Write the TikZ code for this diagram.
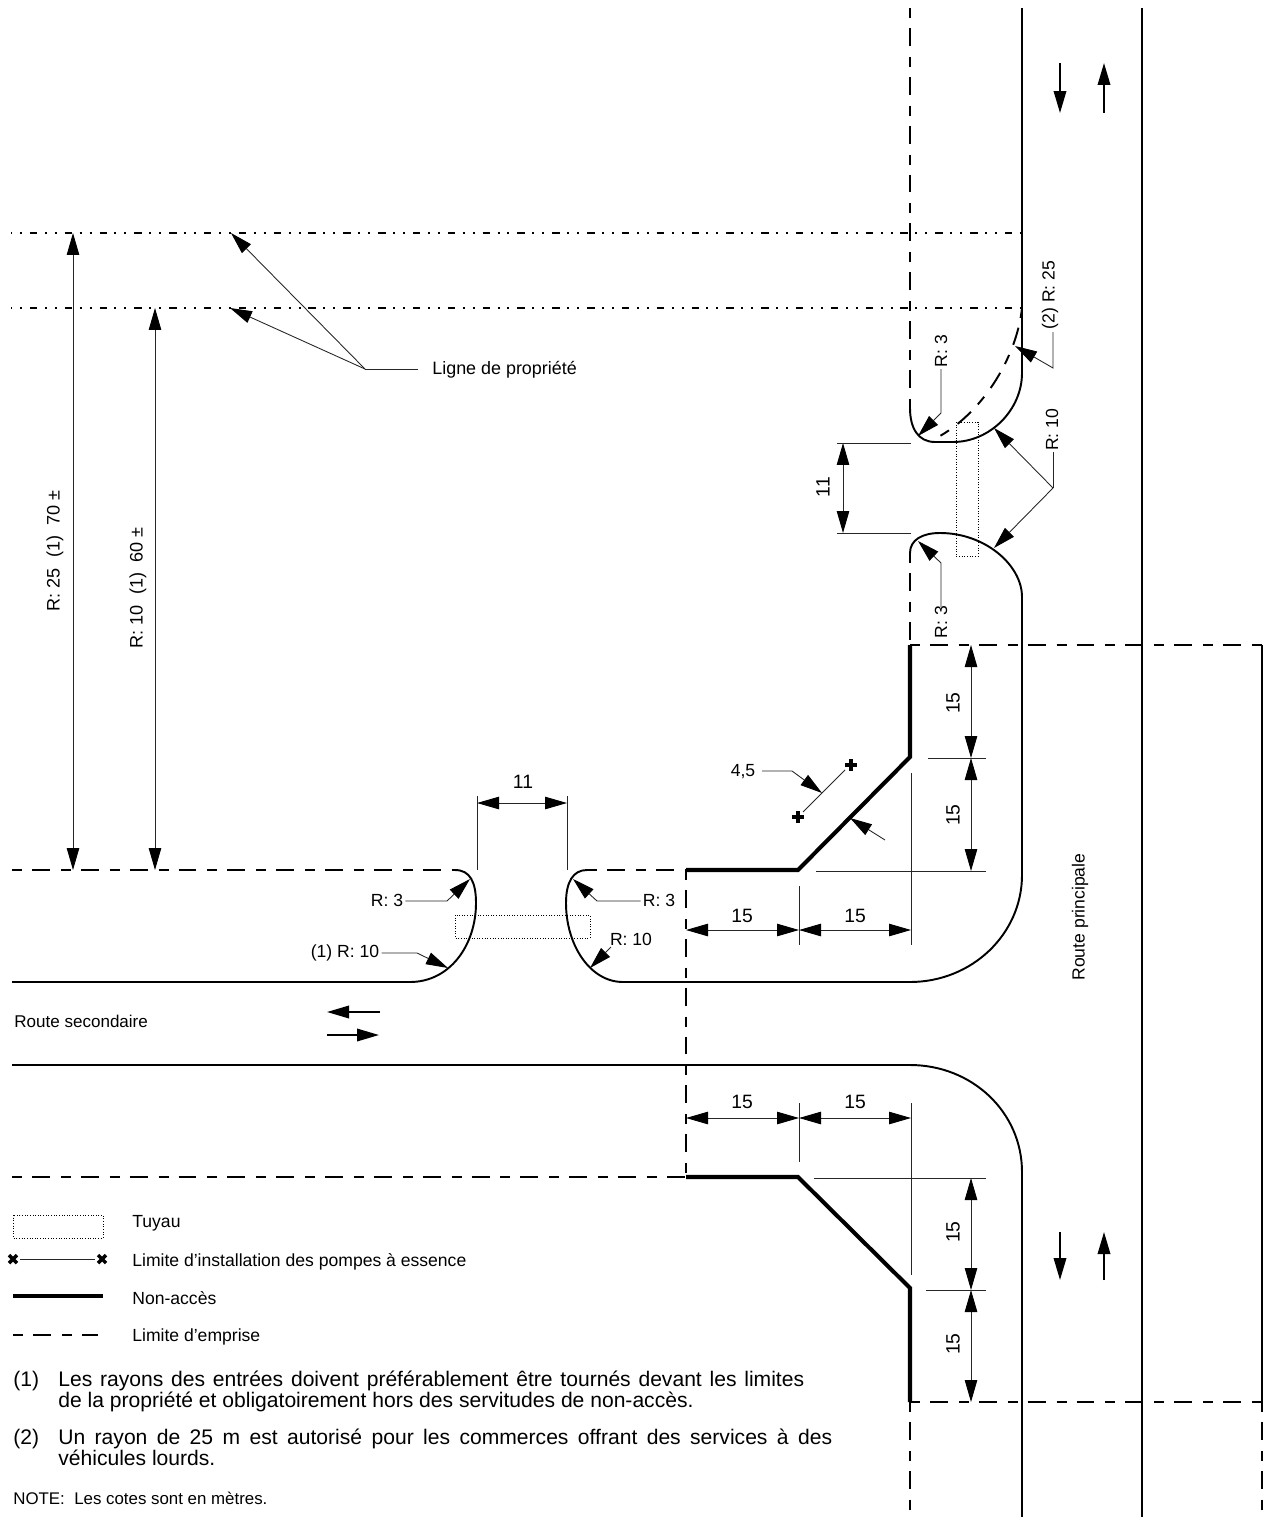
\documentclass[tikz,border=0pt]{standalone}
\usepackage{fontspec}
\setmainfont{Liberation Sans}
\usetikzlibrary{arrows.meta}
\tikzset{
  >={Triangle[length=0.44cm,width=0.25cm]},
  road/.style={line width=1.1pt},
  noaccess/.style={line width=2.3pt,line join=miter},
  emprise/.style={line width=1.1pt,dash pattern=on 5.7pt off 5.7pt on 10.2pt off 6.2pt},
  propriete/.style={line width=1.1pt,dash pattern=on 4.25pt off 4.25pt on 1.13pt off 4.53pt on 1.13pt off 4.53pt,dash phase=9.07pt},
  pipe/.style={line width=0.5pt,densely dotted},
  thinline/.style={line width=0.5pt,black!85},
  dimline/.style={line width=0.5pt,black!85,<->,>={Triangle[length=0.44cm,width=0.25cm,color=black]}},
  leader/.style={line width=0.5pt,black!85,->,>={Triangle[length=0.44cm,width=0.25cm,color=black]}},
  pump/.style={line width=2pt},
  lbl/.style={inner sep=0pt,font=\fontsize{10}{11}\selectfont},
  numlbl/.style={inner sep=0pt,font=\fontsize{11}{12}\selectfont},
  vlbl/.style={lbl,rotate=90},
  vnum/.style={numlbl,rotate=90},
  note/.style={inner sep=0pt,anchor=north west,align=left,font=\fontsize{12}{11.9}\selectfont},
}
\begin{document}
\begin{tikzpicture}[x=0.02cm,y=-0.02cm]
\useasboundingbox (0,0) rectangle (1267,1517);
\draw[road] (1022,8) -- (1022,373);
\draw[road] (910,408) .. controls (910,428) and (918,442) .. (935,442) -- (953,442)
  .. controls (990,442) and (1022,410) .. (1022,373);
\draw[road] (910,553) .. controls (910,540) and (922,533) .. (940,533)
  .. controls (985,533) and (1022,565) .. (1022,597) -- (1022,875)
  .. controls (1022,934) and (972,982) .. (910,982) -- (623,982)
  .. controls (590,982) and (566,945) .. (566,903)
  .. controls (566,882) and (573,870) .. (587,870);
\draw[road] (12,982) -- (410,982) .. controls (450,982) and (476,945) .. (476,903)
  .. controls (476,882) and (470,870) .. (455,870);
\draw[road] (12,1065) -- (910,1065) .. controls (972,1065) and (1022,1112) .. (1022,1172) -- (1022,1517);
\draw[road] (1142,8) -- (1142,1517);
\draw[road] (1262,645) -- (1262,1402);
\draw[emprise] (910,8) -- (910,408);
\draw[emprise] (910,553) -- (910,645);
\draw[emprise] (910,645) -- (1262,645);
\draw[emprise] (910,1402) -- (1262,1402);
\draw[emprise] (910,1402) -- (910,1517);
\draw[emprise] (1262,1402) -- (1262,1517);
\draw[emprise] (12,870) -- (455,870);
\draw[emprise] (587,870) -- (686,870);
\draw[emprise] (686,870) -- (686,1177);
\draw[emprise] (12,1177) -- (686,1177);
\draw[emprise] (1022,308) .. controls (1017,355) and (985,410) .. (940,436);
\draw[noaccess] (910,645) -- (910,757) -- (798,870) -- (686,870);
\draw[noaccess] (686,1177) -- (798,1177) -- (910,1288) -- (910,1402);
\draw[propriete] (11,233) -- (1022,233);
\draw[propriete] (11,308) -- (1022,308);
\draw[pipe] (455,915) rectangle (590,938);
\draw[pipe] (956,422) rectangle (978,556);
% dimensions
\draw[dimline] (73,233) -- (73,870);
\draw[dimline] (155,308) -- (155,870);
\node[vlbl,font=\fontsize{10.3}{11}\selectfont] (rvingtcinq) at (55,551) {R: 25\ \ (1)\ \ 70 ±};
\node[vlbl,font=\fontsize{10.3}{11}\selectfont] (rdix) at (138,588) {R: 10\ \ (1)\ \ 60 ±};
\draw[dimline] (843,443) -- (843,533);
\draw[thinline] (837,443) -- (911,443);
\draw[thinline] (837,533) -- (911,533);
\node[vnum] (onzev) at (823,487) {11};
\draw[dimline] (477,803) -- (567,803);
\draw[thinline] (477,796) -- (477,870);
\draw[thinline] (567,796) -- (567,870);
\node[numlbl] (onzeh) at (523,782) {11};
\draw[dimline] (971,645) -- (971,758);
\draw[dimline] (971,758) -- (971,871);
\draw[thinline] (928,758) -- (986,758);
\draw[thinline] (816,871) -- (986,871);
\draw[thinline] (911,773) -- (911,945);
\node[vnum] (qza) at (953,703) {15};
\node[vnum] (qzb) at (953,815) {15};
\draw[dimline] (686,930) -- (799,930);
\draw[dimline] (799,930) -- (911,930);
\draw[thinline] (799,886) -- (799,945);
\node[numlbl] (qzc) at (742,916) {15};
\node[numlbl] (qzd) at (855,916) {15};
\draw[dimline] (686,1118) -- (799,1118);
\draw[dimline] (799,1118) -- (911,1118);
\draw[thinline] (799,1103) -- (799,1162);
\draw[thinline] (911,1103) -- (911,1275);
\node[numlbl] (qze) at (742,1102) {15};
\node[numlbl] (qzf) at (855,1102) {15};
\draw[dimline] (971,1178) -- (971,1290);
\draw[dimline] (971,1290) -- (971,1402);
\draw[thinline] (814,1178) -- (986,1178);
\draw[thinline] (926,1290) -- (986,1290);
\node[vnum] (qzg) at (953,1232) {15};
\node[vnum] (qzh) at (953,1344) {15};
% leaders
\node[lbl,anchor=west,font=\fontsize{10.2}{11}\selectfont] (ligne) at (432,370) {Ligne de propriété};
\coordinate (ligj) at (365,369);
\draw[thinline] (ligne.west) ++(-14,-1) -- (ligj);
\draw[leader] (ligj) -- (231,233);
\draw[leader] (ligj) -- (230,308);
\node[vlbl] (rtroish) at (941,351) {R: 3};
\draw[leader] (941,369) -- (941,413) -- (918,436);
\node[vlbl] (rtroisb) at (941,622) {R: 3};
\draw[leader] (941,607) -- (941,563) -- (918,541);
\node[vlbl] (rdixv) at (1052,430) {R: 10};
\coordinate (rdixj) at (1053,488);
\draw[thinline] (1053,452) -- (rdixj);
\draw[leader] (rdixj) -- (994,428);
\draw[leader] (rdixj) -- (994,548);
\node[vlbl] (rvc) at (1050,295) {(2) R: 25};
\draw[leader] (1053,332) -- (1053,368) -- (1015,346);
\node[lbl] (rtroisg) at (387,900) {R: 3};
\draw[leader] (rtroisg.east) ++(2,1) -- (447,901) -- (470,879);
\node[lbl] (rdixg) at (345,953) {(1) R: 10};
\draw[leader] (rdixg.east) ++(2,0) -- (417,953) -- (448,968);
\node[lbl] (rtroisd) at (659,900) {R: 3};
\draw[leader] (rtroisd.west) ++(-2,1) -- (597,901) -- (573,879);
\node[lbl] (rdixd) at (631,939) {R: 10};
\draw[leader] (611,947) -- (590,968);
\node[lbl] (qvcinq) at (743,772) {4,5};
\draw[leader] (762,771) -- (792,771) -- (822,793);
\draw[thinline] (803,812) -- (845,770);
\draw[pump] (798,817) +(-6,0) -- +(6,0) +(0,-6) -- +(0,6);
\draw[pump] (851,765) +(-6,0) -- +(6,0) +(0,-6) -- +(0,6);
\draw[leader] (885,840) -- (850,818);
% traffic
\draw[road,->] (1060,63) -- (1060,113);
\draw[road,->] (1104,113) -- (1104,63);
\draw[road,->] (1060,1232) -- (1060,1280);
\draw[road,->] (1104,1280) -- (1104,1232);
\draw[road,->] (380,1012) -- (327,1012);
\draw[road,->] (327,1035) -- (379,1035);
\node[lbl,anchor=west,font=\fontsize{9.7}{11}\selectfont] (secondaire) at (14,1021) {Route secondaire};
\node[vlbl] (principale) at (1080,917) {Route principale};
% legend
\draw[pipe] (13,1215) rectangle (103,1238);
\node[lbl,anchor=west] (tuyau) at (132,1223) {Tuyau};
\draw[thinline] (20,1259) -- (95,1259);
\draw[pump] (9,1255) -- (17,1263) (9,1263) -- (17,1255);
\draw[pump] (98,1255) -- (106,1263) (98,1263) -- (106,1255);
\node[lbl,anchor=west] (limite) at (132,1262) {Limite d'installation des pompes à essence};
\draw[noaccess] (13,1296) -- (103,1296);
\node[lbl,anchor=west] (nonacces) at (132,1298) {Non-accès};
\draw[emprise] (13,1335) -- (98,1335);
\node[lbl,anchor=west] (emp) at (132,1337) {Limite d'emprise};
% notes
\node[note] (una) at (13,1371) {(1)};
\node[note] (unb) at (58,1371) {\hbox to 14.92cm{Les rayons des entrées doivent préférablement être tournés devant les limites}\\de la propriété et obligatoirement hors des servitudes de non-accès.};
\node[note] (dxa) at (13,1429) {(2)};
\node[note] (dxb) at (58,1429) {\hbox to 15.48cm{Un rayon de 25 m est autorisé pour les commerces offrant des services à des}\\véhicules lourds.};
\node[note,font=\fontsize{9.6}{11}\selectfont] (ntc) at (13,1492) {NOTE:\ \ Les cotes sont en mètres.};
\end{tikzpicture}
\end{document}
